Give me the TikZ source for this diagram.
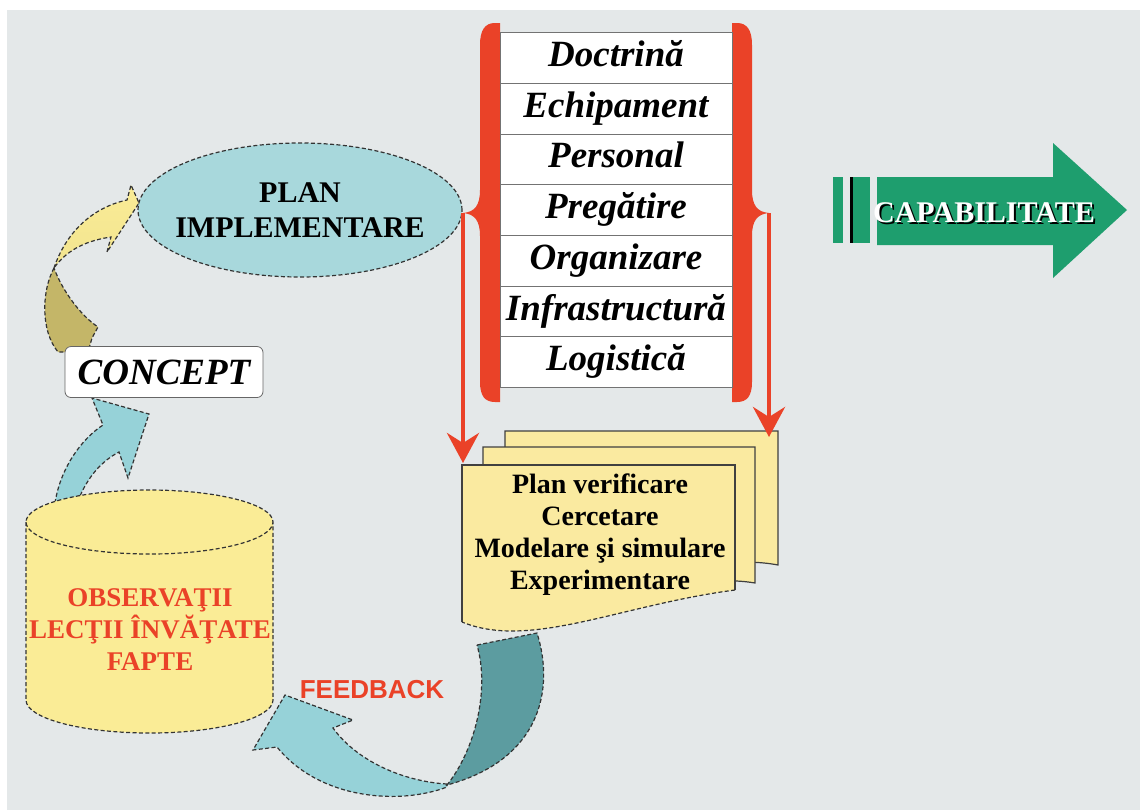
\documentclass[tikz,border=0pt]{standalone}
\usepackage{fontspec}
\setmainfont{Liberation Serif}
\newfontfamily\headfont{Liberation Sans}
\usetikzlibrary{arrows.meta,positioning,shapes.geometric}

\definecolor{bgray}{RGB}{228,232,233}
\definecolor{planblue}{RGB}{168,216,220}
\definecolor{arrowblue}{RGB}{150,210,216}
\definecolor{darkteal}{RGB}{92,156,160}
\definecolor{paleyellow}{RGB}{250,236,150}
\definecolor{sheetyellow}{RGB}{250,234,160}
\definecolor{olive}{RGB}{196,182,104}
\definecolor{brickred}{RGB}{234,66,40}
\definecolor{capgreen}{RGB}{30,158,110}

\begin{document}
\begin{tikzpicture}[
  x=0.5pt, y=-0.5pt,
  rim/.style={draw=black!80, line width=0.6pt, dash pattern=on 2pt off 1.2pt},
  ring/.style={ellipse, rim, fill=planblue, minimum width=162pt, minimum height=67pt, inner xsep=-6pt, inner ysep=0pt,
    align=center, font=\fontsize{15}{17.5}\selectfont\bfseries},
  conceptbox/.style={draw=black!60, rounded corners=3pt, fill=white, minimum width=99pt, minimum height=25.5pt,
    font=\fontsize{18.5}{20}\selectfont\bfseries\itshape},
  row/.style={draw=black!55, thin, fill=white, minimum width=116pt, minimum height=25.35pt, inner sep=0pt, outer sep=0pt,
    text height=12.5pt, text depth=4pt, font=\fontsize{18.5}{20}\selectfont\bfseries\itshape},
  brace/.style={fill=brickred},
  redarrow/.style={draw=brickred, line width=2.2pt, -{Stealth[length=15pt, width=16pt, inset=5pt]}},
  sheet/.style={fill=sheetyellow, draw=black!75, line width=0.6pt},
  txt/.style={align=center, font=\fontsize{14}{16}\selectfont\bfseries}
]
\useasboundingbox (0,0) rectangle (1140,810);
\fill[bgray] (7,10) rectangle (1140,810);

% concept -> plan
\filldraw[rim, fill=olive]
  (54,268) .. controls (42,290) and (40,330) .. (58,352) -- (88,352) -- (92,338) -- (98,327)
  .. controls (80,315) and (62,290) .. (54,268) -- cycle;
\shadedraw[rim, top color=paleyellow, bottom color=paleyellow!85!olive]
  (54,268) .. controls (65,235) and (90,208) .. (127,200) -- (131,185) -- (139,203) -- (107,252) -- (111,237)
  .. controls (90,240) and (68,248) .. (54,268) -- cycle;
% observations -> concept
\filldraw[rim, fill=arrowblue]
  (55,503) .. controls (60,470) and (80,440) .. (103,425) -- (92,398) -- (149,414) -- (128,478) -- (119,452)
  .. controls (100,462) and (88,478) .. (80,496) -- cycle;

\node[ring] (plan) at (300,210) {PLAN\\IMPLEMENTARE};
\node[conceptbox] (concept) at (164,372) {CONCEPT};

% braces round the table
\coordinate (lbrace) at (463,213);
\coordinate (rbrace) at (769,213);
\fill[brace] (500,23) -- (495,23) .. controls (485,23) and (480,30) .. (480,45) -- (480,190)
  .. controls (480,205) and (475,212) .. (lbrace) .. controls (475,214) and (480,221) .. (480,236)
  -- (480,382) .. controls (480,396) and (485,402) .. (495,402) -- (500,402) -- cycle;
\fill[brace] (732,23) -- (737,23) .. controls (747,23) and (752,30) .. (752,45) -- (752,190)
  .. controls (752,205) and (757,212) .. (rbrace) .. controls (757,214) and (752,221) .. (752,236)
  -- (752,382) .. controls (752,396) and (747,402) .. (737,402) -- (732,402) -- cycle;

\node[row] (doctrina) at (616,58) {Doctrină};
\node[row, below=0pt of doctrina] (echip) {Echipament};
\node[row, below=0pt of echip] (personal) {Personal};
\node[row, below=0pt of personal] (pregatire) {Pregătire};
\node[row, below=0pt of pregatire] (organizare) {Organizare};
\node[row, below=0pt of organizare] (infra) {Infrastructură};
\node[row, below=0pt of infra] (logistica) {Logistică};

% stacked sheets
\path[sheet] (505,431) -- (778,431) -- (778,565) .. controls (700,550) and (620,600) .. (505,590) -- cycle;
\path[sheet] (483,447) -- (755,447) -- (755,583) .. controls (680,570) and (600,620) .. (483,610) -- cycle;
\fill[sheetyellow] (462,465) -- (735,465) -- (735,590) .. controls (620,605) and (530,650) .. (462,622) -- cycle;
\draw[black!75, line width=0.6pt] (462,622) -- (462,465) -- (735,465) -- (735,590);
\draw[rim] (735,590) .. controls (620,605) and (530,650) .. (462,622);
\node[txt] (tests) at (600,535) {Plan verificare\\Cercetare\\Modelare şi simulare\\Experimentare};

\coordinate (docl) at (463,463);
\coordinate (docr) at (769,437);
\draw[redarrow] (lbrace) -- (docl);
\draw[redarrow] (rbrace) -- (docr);

% observations store
\path[fill=paleyellow] (26,522) -- (26,700) arc[start angle=180, end angle=360, x radius=61.75pt, y radius=16.5pt]
  -- (273,522) arc[start angle=0, end angle=180, x radius=61.75pt, y radius=16pt] -- cycle;
\draw[rim] (26,522) -- (26,700) arc[start angle=180, end angle=360, x radius=61.75pt, y radius=16.5pt]
  -- (273,522) arc[start angle=0, end angle=180, x radius=61.75pt, y radius=16pt]
  arc[start angle=180, end angle=360, x radius=61.75pt, y radius=16pt];
\node[txt, text=brickred, font=\fontsize{13.5}{16}\selectfont\bfseries] (obs) at (150,630) {OBSERVAŢII\\LECŢII ÎNVĂŢATE\\FAPTE};

% feedback loop
\filldraw[rim, fill=arrowblue]
  (447,784) .. controls (410,782) and (360,765) .. (333,728) -- (353,720) -- (285,695) -- (253,750) -- (277,747)
  .. controls (320,800) and (400,805) .. (447,787) -- cycle;
\filldraw[rim, fill=darkteal]
  (477,645) -- (537,633) .. controls (555,690) and (540,760) .. (447,785)
  .. controls (475,750) and (490,690) .. (477,645) -- cycle;
\node[font=\headfont\fontsize{13}{15}\selectfont\bfseries, text=brickred] (feedback) at (372,690) {FEEDBACK};

% capability arrow
\fill[capgreen] (833,177) rectangle (843,243);
\fill[capgreen] (850,177) rectangle (870,243);
\fill[black] (850,177) rectangle (853,243);
\fill[capgreen] (877,177) -- (1053,177) -- (1053,143) -- (1127,210) -- (1053,278) -- (1053,245) -- (877,245) -- cycle;
\node[font=\fontsize{15}{18}\selectfont\bfseries, text=black] (capshadow) at (986,215) {CAPABILITATE};
\node[font=\fontsize{15}{18}\selectfont\bfseries, text=white] (cap) at (984,213) {CAPABILITATE};
\end{tikzpicture}
\end{document}
